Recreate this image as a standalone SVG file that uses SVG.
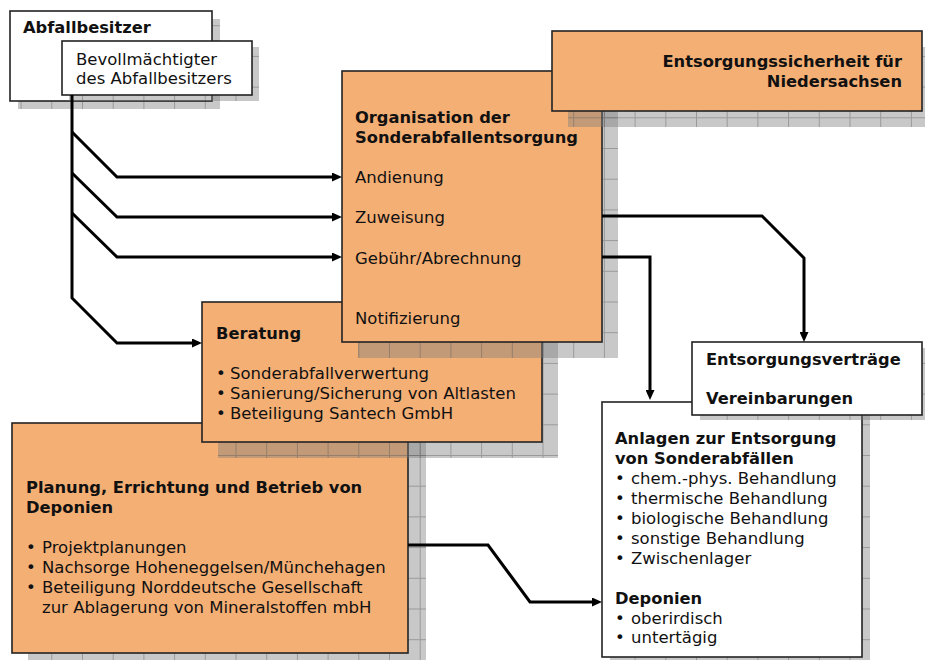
<svg xmlns="http://www.w3.org/2000/svg" width="925" height="660" viewBox="0 0 925 660">
<style>
  text { font-family: "DejaVu Sans", Verdana, sans-serif; font-size: 16.5px; fill: #111; }
  .b { font-weight: bold; font-size: 16.3px; }
  .box { stroke: #222; stroke-width: 1.6; }
  .w { fill: #ffffff; }
  .o { fill: #F4AF75; }
  .sh { fill: url(#grid); }
  .con { fill: none; stroke: #000; stroke-width: 3; stroke-linejoin: miter; }
  .arr { marker-end: url(#ah); }
</style>
<defs>
  <pattern id="grid" patternUnits="userSpaceOnUse" x="20.6" y="25.2" width="30.7" height="30.7">
    <rect width="30.7" height="30.7" fill="#7c7c7c" fill-opacity="0.42"/>
    <path d="M0,0.5H30.7M0.5,0V30.7" stroke="#555" stroke-opacity="0.4" stroke-width="1" fill="none"/>
  </pattern>
  <marker id="ah" markerUnits="userSpaceOnUse" viewBox="0 0 10 9" refX="4" refY="4.5" markerWidth="10" markerHeight="9" orient="auto">
    <path d="M0,0 L10,4.5 L0,9 Z" fill="#000"/>
  </marker>
</defs>

<g id="abfallbesitzer">
  <rect class="sh" x="18" y="19" width="202" height="90"/>
  <rect class="box w" x="10" y="11" width="202" height="90"/>
  <text class="b" x="23" y="33">Abfallbesitzer</text>
</g>

<g id="bevollmaechtigter">
  <rect class="sh" x="69" y="47" width="190" height="54"/>
  <rect class="box w" x="62" y="41" width="190" height="54"/>
  <text x="76" y="65">Bevollmächtigter</text>
  <text x="76" y="84">des Abfallbesitzers</text>
</g>

<g id="planung">
  <rect class="sh" x="28" y="439" width="398" height="230"/>
  <rect class="box o" x="12" y="423" width="396" height="230"/>
  <text class="b" x="26" y="493">Planung, Errichtung und Betrieb von</text>
  <text class="b" x="26" y="513">Deponien</text>
  <text x="26" y="553">•</text><text x="42" y="553">Projektplanungen</text>
  <text x="26" y="573">•</text><text x="42" y="573">Nachsorge Hoheneggelsen/Münchehagen</text>
  <text x="26" y="593">•</text><text x="42" y="593">Beteiligung Norddeutsche Gesellschaft</text>
  <text x="42" y="613">zur Ablagerung von Mineralstoffen mbH</text>
</g>

<g id="beratung">
  <rect class="sh" x="218" y="318" width="340" height="140"/>
  <rect class="box o" x="202" y="302" width="340" height="140"/>
  <text class="b" x="216" y="339">Beratung</text>
  <text x="216" y="379">•</text><text x="230" y="379">Sonderabfallverwertung</text>
  <text x="216" y="399">•</text><text x="230" y="399">Sanierung/Sicherung von Altlasten</text>
  <text x="216" y="419">•</text><text x="230" y="419">Beteiligung Santech GmbH</text>
</g>

<g id="organisation">
  <rect class="sh" x="358" y="87" width="260" height="271"/>
  <rect class="box o" x="342" y="71" width="260" height="271"/>
  <text class="b" x="355" y="123">Organisation der</text>
  <text class="b" x="355" y="143">Sonderabfallentsorgung</text>
  <text x="355" y="183">Andienung</text>
  <text x="355" y="223">Zuweisung</text>
  <text x="355" y="264">Gebühr/Abrechnung</text>
  <text x="355" y="324">Notifizierung</text>
</g>

<g id="entsorgungssicherheit">
  <rect class="sh" x="568" y="47" width="370" height="80"/>
  <rect class="box o" x="552" y="31" width="370" height="80"/>
  <text class="b" x="902" y="67" text-anchor="end">Entsorgungssicherheit für</text>
  <text class="b" x="902" y="87" text-anchor="end">Niedersachsen</text>
</g>

<g id="anlagen">
  <rect class="sh" x="610" y="410" width="260" height="260"/>
  <rect class="box w" x="602" y="402" width="260" height="255"/>
  <text class="b" x="615" y="444">Anlagen zur Entsorgung</text>
  <text class="b" x="615" y="464">von Sonderabfällen</text>
  <text x="615" y="484">•</text><text x="631" y="484">chem.-phys. Behandlung</text>
  <text x="615" y="504">•</text><text x="631" y="504">thermische Behandlung</text>
  <text x="615" y="524">•</text><text x="631" y="524">biologische Behandlung</text>
  <text x="615" y="544">•</text><text x="631" y="544">sonstige Behandlung</text>
  <text x="615" y="564">•</text><text x="631" y="564">Zwischenlager</text>
  <text class="b" x="615" y="604">Deponien</text>
  <text x="615" y="624">•</text><text x="631" y="624">oberirdisch</text>
  <text x="615" y="643">•</text><text x="631" y="643">untertägig</text>
</g>

<g id="entsorgungsvertraege">
  <rect class="sh" x="700" y="348" width="230" height="72"/>
  <rect class="box w" x="692" y="342" width="230" height="73"/>
  <text class="b" x="706" y="365">Entsorgungsverträge</text>
  <text class="b" x="706" y="404">Vereinbarungen</text>
</g>

<g id="connectors">
  <path class="con arr" d="M72,95 L72,298 L117,343 L196,343"/>
  <path class="con arr" d="M72,132 L117,177 L336,177"/>
  <path class="con arr" d="M72,173 L117,217 L336,217"/>
  <path class="con arr" d="M72,213 L117,257 L336,257"/>
  <path class="con arr" d="M602,216 L762,216 L804,258 L804,336"/>
  <path class="con arr" d="M602,257 L650,257 L650,394"/>
  <path class="con arr" d="M408,545 L488,545 L530,602 L596,602"/>
</g>
</svg>
